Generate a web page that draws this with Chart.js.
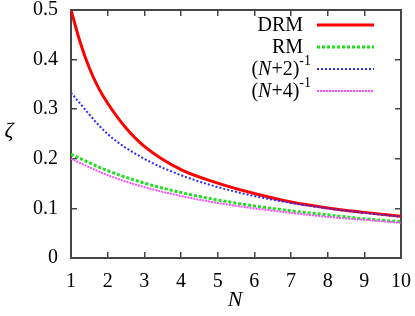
<!DOCTYPE html>
<html>
<head>
<meta charset="utf-8">
<script src="https://cdn.jsdelivr.net/npm/chart.js@4"></script>
<style>
  body { margin: 0; background: #fff; }
  canvas { display: block; }
</style>
</head>
<body>
<canvas id="myChart" width="415" height="316"></canvas>
<script>
// values
const drmN = [1, 1.25, 1.5, 1.75, 2, 2.5, 3, 4, 5, 6, 7, 8, 9, 10];
const drmZeta = [0.5, 0.435, 0.383, 0.343, 0.312, 0.262, 0.225, 0.178, 0.151, 0.13, 0.113, 0.101, 0.092, 0.084];

const nValues = [1, 2, 3, 4, 5, 6, 7, 8, 9, 10];
const rmZeta = [0.209, 0.176, 0.151, 0.132, 0.117, 0.105, 0.095, 0.087, 0.079, 0.073];
const np2Zeta = [0.333, 0.25, 0.2, 0.167, 0.143, 0.125, 0.111, 0.1, 0.091, 0.083];
const np4Zeta = [0.2, 0.167, 0.143, 0.125, 0.111, 0.1, 0.091, 0.083, 0.077, 0.071];

const yTicks = [0, 0.1, 0.2, 0.3, 0.4, 0.5];

const pts = (xs, ys) => xs.map((x, i) => ({x: x, y: ys[i]}));

const SERIF = "'Liberation Serif', 'DejaVu Serif', serif";
const FRAME = "rgb(70,70,70)";

// axis titles and the legend
const gnuplotLook = {
  id: "gnuplotLook",
  afterDraw(chart) {
    const ctx = chart.ctx;
    ctx.save();
    ctx.fillStyle = "#000";
    ctx.textAlign = "center";
    ctx.textBaseline = "middle";
    ctx.font = "italic 22px " + SERIF;
    ctx.fillText("\u03B6", 9, 131);
    ctx.fillText("N", 235, 300);

    // legend: label right-aligned, then a line sample
    const rows = [
      {parts: [["DRM", "n"]], y: 25},
      {parts: [["RM", "n"]], y: 47},
      {parts: [["(", "n"], ["N", "i"], ["+2)", "n"], ["-1", "s"]], y: 69},
      {parts: [["(", "n"], ["N", "i"], ["+4)", "n"], ["-1", "s"]], y: 91}
    ];
    const fonts = {n: "20px " + SERIF, i: "italic 20px " + SERIF, s: "14px " + SERIF};
    ctx.textAlign = "left";
    rows.forEach((row, k) => {
      let w = 0;
      row.parts.forEach(p => { ctx.font = fonts[p[1]]; w += ctx.measureText(p[0]).width; });
      const right = row.parts.length > 1 ? 311 : 303;
      let x = right - w;
      row.parts.forEach(p => {
        ctx.font = fonts[p[1]];
        ctx.fillText(p[0], x, p[1] === "s" ? row.y - 8 : row.y + 1);
        x += ctx.measureText(p[0]).width;
      });
      const ds = chart.data.datasets[k];
      ctx.strokeStyle = ds.borderColor;
      ctx.lineWidth = ds.borderWidth;
      ctx.setLineDash(ds.borderDash || []);
      ctx.beginPath();
      ctx.moveTo(317, row.y);
      ctx.lineTo(374, row.y);
      ctx.stroke();
    });
    ctx.restore();
  }
};

// frame drawn by four axes, inward tick marks on each
const sideAxis = (pos, axis, extra) => Object.assign({
  position: pos,
  axis: axis,
  grid: {display: true, drawOnChartArea: false, drawTicks: true, tickLength: -6, color: FRAME, lineWidth: 1.5},
  border: {display: true, color: FRAME, width: 2}
}, extra);

new Chart("myChart", {
  type: "line",
  data: {
    datasets: [{
      label: "DRM",
      data: pts(drmN, drmZeta),
      borderColor: "#ff0000",
      borderWidth: 3,
      order: 4
    }, {
      label: "RM",
      data: pts(nValues, rmZeta),
      borderColor: "#1ee01e",
      borderWidth: 3,
      borderDash: [3, 2],
      order: 3
    }, {
      label: "(N+2)^-1",
      data: pts(nValues, np2Zeta),
      borderColor: "#2a2aff",
      borderWidth: 2,
      borderDash: [2, 2],
      order: 2
    }, {
      label: "(N+4)^-1",
      data: pts(nValues, np4Zeta),
      borderColor: "#ff4cff",
      borderWidth: 2,
      borderDash: [2, 1],
      order: 1
    }]
  },
  options: {
    responsive: false,
    animation: false,
    devicePixelRatio: 1,
    layout: {padding: {top: 10, right: 14, left: 0, bottom: 0}},
    elements: {
      point: {radius: 0},
      line: {fill: false, cubicInterpolationMode: "monotone"}
    },
    plugins: {legend: {display: false}, tooltip: {enabled: false}},
    scales: {
      x: sideAxis("bottom", "x", {
        type: "linear",
        min: 1, max: 10,
        afterFit: s => { s.height = 58; s.paddingLeft = 0; s.paddingRight = 0; },
        ticks: {
          stepSize: 1,
          padding: 18,
          color: "#000",
          font: {family: SERIF, size: 20}
        }
      }),
      x2: sideAxis("top", "x", {
        type: "linear",
        min: 1, max: 10,
        afterFit: s => { s.height = 0; s.paddingLeft = 0; s.paddingRight = 0; },
        ticks: {stepSize: 1, display: false}
      }),
      y: sideAxis("left", "y", {
        min: 0, max: 0.5,
        afterFit: s => { s.width = 71; s.paddingTop = 0; s.paddingBottom = 0; },
        afterBuildTicks: s => { s.ticks = yTicks.map(v => ({value: v})); },
        ticks: {
          padding: 19,
          color: "#000",
          font: {family: SERIF, size: 20},
          callback: v => v === 0 ? "0" : v.toFixed(1)
        }
      }),
      y2: sideAxis("right", "y", {
        min: 0, max: 0.5,
        afterFit: s => { s.width = 0; s.paddingTop = 0; s.paddingBottom = 0; },
        afterBuildTicks: s => { s.ticks = yTicks.map(v => ({value: v})); },
        ticks: {display: false}
      })
    }
  },
  plugins: [gnuplotLook]
});
</script>
</body>
</html>
